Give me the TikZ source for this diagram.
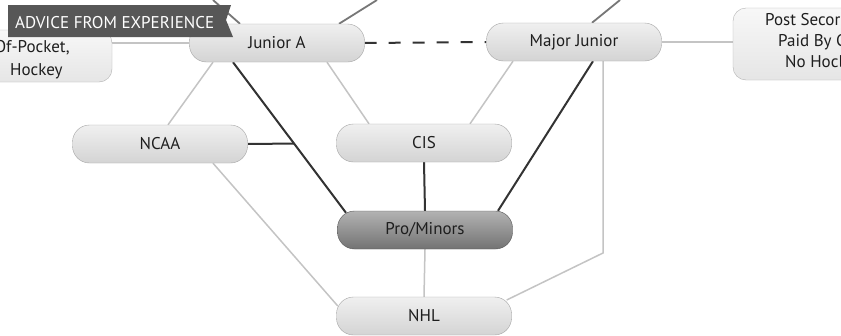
\documentclass[tikz,border=0pt]{standalone}
\usepackage{fontspec}
\setmainfont{PT Sans}
\usetikzlibrary{calc}
\pgfdeclarelayer{background}
\pgfdeclarelayer{bottom}
\pgfsetlayers{bottom,background,main}
\definecolor{lightln}{HTML}{C4C4C4}
\definecolor{darkln}{HTML}{333333}
\definecolor{midln}{HTML}{777777}
\definecolor{bannerc}{HTML}{575757}
\definecolor{txt}{HTML}{1E1E1E}
\tikzset{
  pill/.style={draw=black!35, top color=black!6, bottom color=black!17, rounded corners=17pt,
    minimum width=175pt, minimum height=38pt, inner sep=0pt, text=txt,
    font=\fontsize{17}{20}\selectfont},
  pillpro/.style={pill, draw=black!65, top color=black!30, bottom color=black!55},
  sidebox/.style={draw=black!30, top color=black!3, bottom color=black!10, rounded corners=13pt},
  light/.style={draw=lightln, line width=1.5pt},
  dark/.style={draw=darkln, line width=2pt},
  mid/.style={draw=midln, line width=1.8pt},
  sidetxt/.style={text=txt, inner sep=0pt, font=\fontsize{17}{20}\selectfont},
}
\begin{document}
\begin{tikzpicture}[x=1pt,y=-1pt]
\useasboundingbox (0,0) rectangle (841,335);
\begin{pgfonlayer}{bottom}
\fill[white] (0,0) rectangle (841,335);
\end{pgfonlayer}
\begin{scope}
\clip (0,0) rectangle (841,335);
% side boxes
\path[sidebox] (-30,30) rectangle (112,82);
\node[coordinate] (lb) at (112,56) {};
\node[sidetxt, anchor=base east] (lt1) at (70,52) {Of-Pocket,};
\node[sidetxt, anchor=base west] (lt2) at (10,75) {Hockey};
\path[sidebox] (733,8) rectangle (880,80);
\node[coordinate] (pb) at (733,44) {};
\node[sidetxt, anchor=base west] (pt1) at (765,25) {Post Secor};
\node[sidetxt, anchor=base west] (pt2) at (778,46) {Paid By C};
\node[sidetxt, anchor=base west] (pt3) at (785,67) {No Hocl};
% main nodes
\node[pill] (ja) at (277,43) {Junior A};
\node[pill] (mj) at (574,42) {Major Junior};
\node[pill] (ncaa) at (160,144) {NCAA};
\node[pill] (cis) at (424,143) {CIS};
\node[pillpro] (pm) at (425,230) {Pro/Minors};
\node[pill] (nhl) at (424,316) {NHL};
% coordinates
\coordinate (t1) at (213,0);
\coordinate (t2) at (377,0);
\coordinate (t3) at (620,0);
\coordinate (jaP) at ($(ja.south)+(-44,0)$);
\coordinate (pmJ) at ($(pm.north)+(-79,2)$);
\coordinate (junc) at ($(jaP)!0.54!(pmJ)$);
\coordinate (mjturn) at (603,253);
\begin{pgfonlayer}{background}
\draw[mid] (t1) -- ($(ja.north)+(-37,0)$);
\draw[mid] (t2) -- ($(ja.north)+(62,0)$);
\draw[mid] (t3) -- ($(mj.north)+(18,0)$);
\draw[light] (ja.west) -- (ja.west -| lb);
\draw[light] ($(ja.south)+(-64,0)$) -- ($(ncaa.north)+(8,0)$);
\draw[light] ($(ja.south)+(50,0)$) -- ($(cis.north)+(-55,0)$);
\draw[light] ($(mj.south)+(-61,0)$) -- ($(cis.north)+(46,0)$);
\draw[light] (mj.east) -- (mj.east -| pb);
\draw[light] ($(mj.south)+(29,0)$) -- (mjturn) -- ($(nhl.east)+(-5,-16)$);
\draw[light] ($(ncaa.south)+(53,0)$) -- ($(nhl.west)+(1.5,-10)$);
\draw[light] (pm.south) -- (nhl.north);
\draw[dark] (jaP) -- (pmJ);
\draw[dark] (ncaa.east) -- (junc);
\draw[dark] (cis.south) -- (pm.north);
\draw[dark] ($(mj.south)+(19,0)$) -- ($(pm.north)+(73,0)$);
\draw[dark, dash pattern=on 12pt off 12pt] (ja.east) -- (mj.west);
\end{pgfonlayer}
% banner
\fill[bannerc] (8,5) -- (231,5) -- (226,20) -- (233,37) -- (8,37) -- cycle;
\node[anchor=base west, text=white, inner sep=0pt, font=\fontsize{17}{20}\selectfont] (ban) at (15,28) {ADVICE FROM EXPERIENCE};
\end{scope}
\end{tikzpicture}
\end{document}
